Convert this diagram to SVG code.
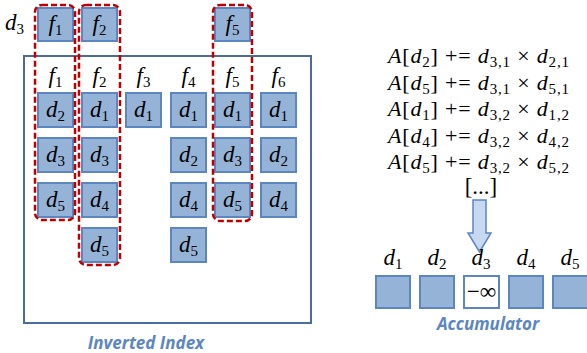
<svg xmlns="http://www.w3.org/2000/svg" width="587" height="353" viewBox="0 0 587 353">
<style>
.box{fill:#95b3d7;stroke:#5b86c0;stroke-width:2}
.wbox{fill:#ffffff;stroke:#5b86c0;stroke-width:2}
.sel{fill:none;stroke:#c00000;stroke-width:2.5;stroke-dasharray:6 3}
.m{font-family:"Liberation Serif","DejaVu Serif",serif;font-size:23px;fill:#000;font-style:italic}
.f{font-size:22px}
.s{font-style:normal;font-size:15px}
.n{font-style:normal}
.cap{font-family:"Open Sans","Liberation Sans",sans-serif;font-weight:bold;font-style:italic;font-size:17px;fill:#5b86c0}
</style>
<rect width="587" height="353" fill="#ffffff"/>
<g id="query">
<text class="m" x="5" y="30">d<tspan class="s" dy="4">3</tspan></text>
<g id="q-f1"><rect class="box" x="38" y="8" width="35" height="33"/><text class="m" x="55.5" y="31" text-anchor="middle">f<tspan class="s" dy="4">1</tspan></text></g>
<g id="q-f2"><rect class="box" x="82" y="8" width="35" height="33"/><text class="m" x="99.5" y="31" text-anchor="middle">f<tspan class="s" dy="4">2</tspan></text></g>
<g id="q-f5"><rect class="box" x="215" y="8" width="35" height="33"/><text class="m" x="232.5" y="31" text-anchor="middle">f<tspan class="s" dy="4">5</tspan></text></g>
</g>
<g id="inverted-index">
<rect x="24" y="56" width="287" height="267" fill="none" stroke="#4a6c9b" stroke-width="2"/>
<g id="col-f1">
<text class="m" x="55.5" y="83" text-anchor="middle">f<tspan class="s" dy="4">1</tspan></text>
<rect class="box" x="38" y="93" width="35" height="34"/><text class="m" x="55.5" y="117" text-anchor="middle">d<tspan class="s" dy="4">2</tspan></text>
<rect class="box" x="38" y="138" width="35" height="34"/><text class="m" x="55.5" y="162" text-anchor="middle">d<tspan class="s" dy="4">3</tspan></text>
<rect class="box" x="38" y="183" width="35" height="34"/><text class="m" x="55.5" y="207" text-anchor="middle">d<tspan class="s" dy="4">5</tspan></text>
</g>
<g id="col-f2">
<text class="m" x="99.5" y="83" text-anchor="middle">f<tspan class="s" dy="4">2</tspan></text>
<rect class="box" x="82" y="93" width="35" height="34"/><text class="m" x="99.5" y="117" text-anchor="middle">d<tspan class="s" dy="4">1</tspan></text>
<rect class="box" x="82" y="138" width="35" height="34"/><text class="m" x="99.5" y="162" text-anchor="middle">d<tspan class="s" dy="4">3</tspan></text>
<rect class="box" x="82" y="183" width="35" height="34"/><text class="m" x="99.5" y="207" text-anchor="middle">d<tspan class="s" dy="4">4</tspan></text>
<rect class="box" x="82" y="228" width="35" height="34"/><text class="m" x="99.5" y="252" text-anchor="middle">d<tspan class="s" dy="4">5</tspan></text>
</g>
<g id="col-f3">
<text class="m" x="143.5" y="83" text-anchor="middle">f<tspan class="s" dy="4">3</tspan></text>
<rect class="box" x="126" y="93" width="35" height="34"/><text class="m" x="143.5" y="117" text-anchor="middle">d<tspan class="s" dy="4">1</tspan></text>
</g>
<g id="col-f4">
<text class="m" x="188.5" y="83" text-anchor="middle">f<tspan class="s" dy="4">4</tspan></text>
<rect class="box" x="171" y="93" width="35" height="34"/><text class="m" x="188.5" y="117" text-anchor="middle">d<tspan class="s" dy="4">1</tspan></text>
<rect class="box" x="171" y="138" width="35" height="34"/><text class="m" x="188.5" y="162" text-anchor="middle">d<tspan class="s" dy="4">2</tspan></text>
<rect class="box" x="171" y="183" width="35" height="34"/><text class="m" x="188.5" y="207" text-anchor="middle">d<tspan class="s" dy="4">4</tspan></text>
<rect class="box" x="171" y="228" width="35" height="34"/><text class="m" x="188.5" y="252" text-anchor="middle">d<tspan class="s" dy="4">5</tspan></text>
</g>
<g id="col-f5">
<text class="m" x="232.5" y="83" text-anchor="middle">f<tspan class="s" dy="4">5</tspan></text>
<rect class="box" x="215" y="93" width="35" height="34"/><text class="m" x="232.5" y="117" text-anchor="middle">d<tspan class="s" dy="4">1</tspan></text>
<rect class="box" x="215" y="138" width="35" height="34"/><text class="m" x="232.5" y="162" text-anchor="middle">d<tspan class="s" dy="4">3</tspan></text>
<rect class="box" x="215" y="183" width="35" height="34"/><text class="m" x="232.5" y="207" text-anchor="middle">d<tspan class="s" dy="4">5</tspan></text>
</g>
<g id="col-f6">
<text class="m" x="278.5" y="83" text-anchor="middle">f<tspan class="s" dy="4">6</tspan></text>
<rect class="box" x="261" y="93" width="35" height="34"/><text class="m" x="278.5" y="117" text-anchor="middle">d<tspan class="s" dy="4">1</tspan></text>
<rect class="box" x="261" y="138" width="35" height="34"/><text class="m" x="278.5" y="162" text-anchor="middle">d<tspan class="s" dy="4">2</tspan></text>
<rect class="box" x="261" y="183" width="35" height="34"/><text class="m" x="278.5" y="207" text-anchor="middle">d<tspan class="s" dy="4">4</tspan></text>
</g>
<text class="cap" x="146" y="349" text-anchor="middle">Inverted Index</text>
</g>
<g id="selections">
<rect class="sel" x="35" y="5" width="40" height="215" rx="7"/>
<rect class="sel" x="79" y="5" width="41" height="260" rx="7"/>
<rect class="sel" x="213" y="5" width="39" height="216" rx="7"/>
</g>
<g id="formulas">
<text class="m f" x="388" y="63" textLength="181" lengthAdjust="spacing">A<tspan class="n">[</tspan>d<tspan class="s" dy="4">2</tspan><tspan class="n" dy="-4">] += </tspan>d<tspan class="s" dy="4">3,1</tspan><tspan class="n" dy="-4"> × </tspan>d<tspan class="s" dy="4">2,1</tspan></text>
<text class="m f" x="388" y="90" textLength="181" lengthAdjust="spacing">A<tspan class="n">[</tspan>d<tspan class="s" dy="4">5</tspan><tspan class="n" dy="-4">] += </tspan>d<tspan class="s" dy="4">3,1</tspan><tspan class="n" dy="-4"> × </tspan>d<tspan class="s" dy="4">5,1</tspan></text>
<text class="m f" x="388" y="116" textLength="181" lengthAdjust="spacing">A<tspan class="n">[</tspan>d<tspan class="s" dy="4">1</tspan><tspan class="n" dy="-4">] += </tspan>d<tspan class="s" dy="4">3,2</tspan><tspan class="n" dy="-4"> × </tspan>d<tspan class="s" dy="4">1,2</tspan></text>
<text class="m f" x="388" y="143" textLength="181" lengthAdjust="spacing">A<tspan class="n">[</tspan>d<tspan class="s" dy="4">4</tspan><tspan class="n" dy="-4">] += </tspan>d<tspan class="s" dy="4">3,2</tspan><tspan class="n" dy="-4"> × </tspan>d<tspan class="s" dy="4">4,2</tspan></text>
<text class="m f" x="388" y="169" textLength="181" lengthAdjust="spacing">A<tspan class="n">[</tspan>d<tspan class="s" dy="4">5</tspan><tspan class="n" dy="-4">] += </tspan>d<tspan class="s" dy="4">3,2</tspan><tspan class="n" dy="-4"> × </tspan>d<tspan class="s" dy="4">5,2</tspan></text>
<text class="m n" x="481" y="194" text-anchor="middle" font-size="19">[...]</text>
</g>
<g id="connectors">
<path d="M473,200 H486 V233 H491 L479.5,252 L468,233 H473 Z" fill="#c6d9f1" stroke="#5b86c0" stroke-width="1.5"/>
</g>
<g id="accumulator">
<g id="acc-d1"><text class="m" x="393" y="265" text-anchor="middle">d<tspan class="s" dy="4">1</tspan></text><rect class="box" x="376" y="276" width="34" height="32"/></g>
<g id="acc-d2"><text class="m" x="437" y="265" text-anchor="middle">d<tspan class="s" dy="4">2</tspan></text><rect class="box" x="420" y="276" width="34" height="32"/></g>
<g id="acc-d3"><text class="m" x="481" y="265" text-anchor="middle">d<tspan class="s" dy="4">3</tspan></text><rect class="wbox" x="464" y="276" width="35" height="32"/><text class="m n" x="481.5" y="299" text-anchor="middle" font-size="22">−∞</text></g>
<g id="acc-d4"><text class="m" x="526" y="265" text-anchor="middle">d<tspan class="s" dy="4">4</tspan></text><rect class="box" x="509" y="276" width="34" height="32"/></g>
<g id="acc-d5"><text class="m" x="570" y="265" text-anchor="middle">d<tspan class="s" dy="4">5</tspan></text><rect class="box" x="553" y="276" width="35" height="32"/></g>
<text class="cap" x="488" y="330" text-anchor="middle">Accumulator</text>
</g>
</svg>
